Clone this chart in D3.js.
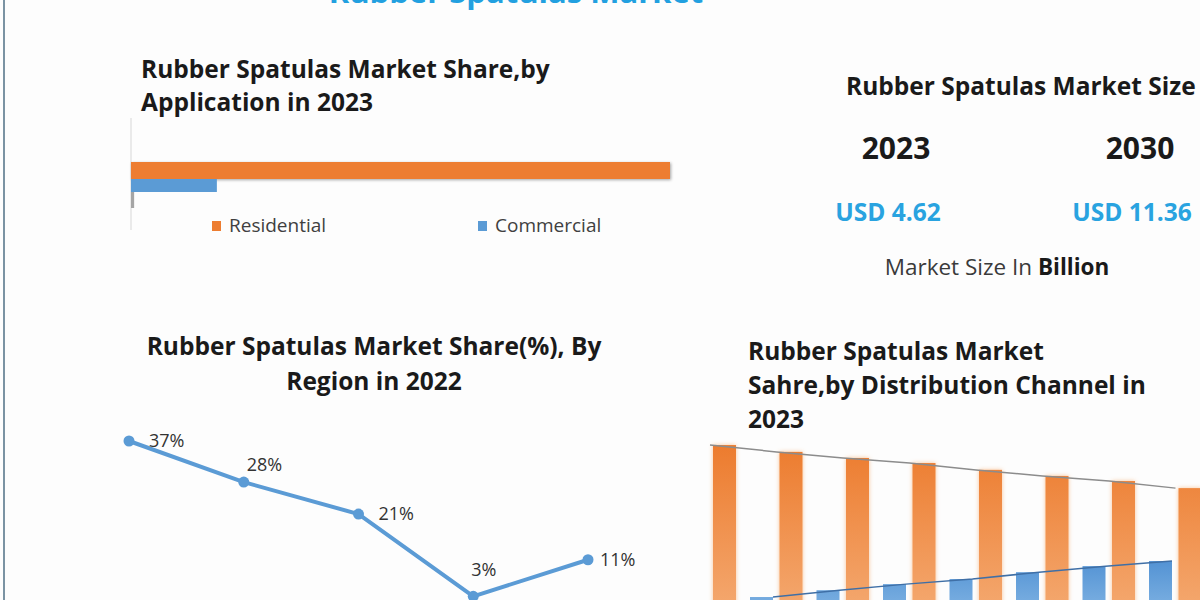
<!DOCTYPE html>
<html>
<head>
<meta charset="utf-8">
<script src="https://cdn.jsdelivr.net/npm/d3@7"></script>
<style>
	body { margin: 0; background: #fdfdfd; }
	svg { display: block; font-family: 'Open Sans', Lato, sans-serif; }
	.heading { font-weight: 700; fill: #1a1a1a; }
	.legend-text { fill: #404040; }
	.point-label { fill: #333; }
</style>
</head>
<body>
<svg id="chart"></svg>
<script>
// application share (top left)
const appCategories = ['Residential', 'Commercial', 'Other'];
const appShare = [86, 13.7, 0.5];

// market size
const sizeYears = ['2023', '2030'];
const sizeValues = [4.62, 11.36];

// share by region, 2022
const regions = ['North America', 'Europe', 'Asia Pacific', 'Middle East and Africa', 'South America'];
const regionShare = [37, 28, 21, 3, 11];

// share by distribution channel
const channelYears = ['2023', '2024', '2025', '2026', '2027', '2028', '2029', '2030'];
const offlineShare = [80, 77.3, 74.9, 72.9, 70.2, 67.8, 65.8, 63];
const onlineShare = [20, 22.7, 25.1, 27.1, 29.8, 32.2, 34.2, 37];

const width = 1200,
	height = 600;

const svg = d3.select('#chart')
	.attr('width', width)
	.attr('height', height);

svg.append('rect')
	.attr('width', width)
	.attr('height', height)
	.attr('fill', '#fdfdfd');

// left frame line
svg.append('line')
	.attr('x1', 4).attr('x2', 4)
	.attr('y1', 0).attr('y2', height)
	.attr('stroke', '#7b93a3')
	.attr('stroke-width', 2);

// main title, mostly cut off at the top
svg.append('text')
	.attr('x', 516)
	.attr('y', 3)
	.attr('text-anchor', 'middle')
	.style('font-size', '31px')
	.style('font-weight', 700)
	.style('fill', '#22a0e0')
	.text('Rubber Spatulas Market');

const colors = { orange: '#ed7d31', blue: '#5b9bd5', grey: '#a5a5a5' };
const headSize = '24.5px';

// ---------- Application share ----------
const app = svg.append('g');

app.append('text').attr('class', 'heading')
	.attr('x', 141).attr('y', 78)
	.style('font-size', headSize)
	.text('Rubber Spatulas Market Share,by');
app.append('text').attr('class', 'heading')
	.attr('x', 141).attr('y', 111)
	.style('font-size', headSize)
	.text('Application in 2023');

const xApp = d3.scaleLinear().domain([0, 86]).range([131, 670]);
const appColor = d3.scaleOrdinal().domain(appCategories).range([colors.orange, colors.blue, colors.grey]);
const appHeights = [17, 13, 16];

app.append('line')
	.attr('x1', xApp(0)).attr('x2', xApp(0))
	.attr('y1', 118).attr('y2', 230)
	.attr('stroke', '#e3e3e3')
	.attr('stroke-width', 1.5);

let yCursor = 162;
app.selectAll('.app-bar')
	.data(appCategories)
	.join('rect')
	.attr('class', 'app-bar')
	.attr('x', xApp(0))
	.attr('y', (d, i) => {
		const y = yCursor;
		yCursor += appHeights[i];
		return y;
	})
	.attr('width', (d, i) => xApp(appShare[i]) - xApp(0))
	.attr('height', (d, i) => appHeights[i])
	.attr('fill', d => appColor(d))
	.style('filter', (d, i) => i === 0 ? 'drop-shadow(1px 1px 1.5px rgba(0,0,0,0.35))' : null);

const appLegend = app.selectAll('.app-legend')
	.data(appCategories.slice(0, 2))
	.join('g')
	.attr('class', 'app-legend')
	.attr('transform', (d, i) => `translate(${212 + i * 266},221)`);
appLegend.append('rect')
	.attr('width', 9).attr('height', 10)
	.attr('fill', d => appColor(d));
appLegend.append('text')
	.attr('class', 'legend-text')
	.attr('x', 17).attr('y', 11)
	.style('font-size', '19px')
	.text(d => d);

// ---------- Market size ----------
const size = svg.append('g');
size.append('text').attr('class', 'heading')
	.attr('x', 846).attr('y', 95)
	.style('font-size', headSize)
	.text('Rubber Spatulas Market Size');

const xSize = d3.scalePoint().domain(sizeYears).range([896, 1140]);
size.selectAll('.size-year')
	.data(sizeYears)
	.join('text')
	.attr('class', 'size-year heading')
	.attr('x', d => xSize(d))
	.attr('y', 159)
	.attr('text-anchor', 'middle')
	.style('font-size', '30px')
	.text(d => d);
size.selectAll('.size-value')
	.data(sizeValues)
	.join('text')
	.attr('class', 'size-value')
	.attr('x', (d, i) => xSize(sizeYears[i]) - 8)
	.attr('y', 221)
	.attr('text-anchor', 'middle')
	.style('font-size', '24.5px')
	.style('font-weight', 700)
	.style('fill', '#29a3e0')
	.text(d => `USD ${d}`);

const sizeNote = size.append('text')
	.attr('x', 997).attr('y', 275)
	.attr('text-anchor', 'middle')
	.style('font-size', '22.5px')
	.style('fill', '#3a3a3a');
sizeNote.append('tspan').text('Market Size In ');
sizeNote.append('tspan').style('font-weight', 700).style('fill', '#1a1a1a').text('Billion');

// ---------- Region line chart ----------
const reg = svg.append('g');
reg.append('text').attr('class', 'heading')
	.attr('x', 374).attr('y', 355)
	.attr('text-anchor', 'middle')
	.style('font-size', headSize)
	.text('Rubber Spatulas Market Share(%), By');
reg.append('text').attr('class', 'heading')
	.attr('x', 374).attr('y', 390)
	.attr('text-anchor', 'middle')
	.style('font-size', headSize)
	.text('Region in 2022');

const xReg = d3.scalePoint().domain(regions).range([129, 588]);
const yReg = d3.scaleLinear().domain([0, 37]).range([610, 441]);

reg.append('path')
	.datum(regionShare)
	.attr('fill', 'none')
	.attr('stroke', colors.blue)
	.attr('stroke-width', 4)
	.attr('stroke-linejoin', 'round')
	.attr('d', d3.line().x((d, i) => xReg(regions[i])).y(d => yReg(d)));

reg.selectAll('.reg-dot')
	.data(regionShare)
	.join('circle')
	.attr('class', 'reg-dot')
	.attr('cx', (d, i) => xReg(regions[i]))
	.attr('cy', d => yReg(d))
	.attr('r', 5.5)
	.attr('fill', colors.blue);

// label offsets relative to each point
const labelOffsets = [[20, 6], [3, -11], [20, 6], [-2, -20], [12, 6]];
reg.selectAll('.point-label')
	.data(regionShare)
	.join('text')
	.attr('class', 'point-label')
	.attr('x', (d, i) => xReg(regions[i]) + labelOffsets[i][0])
	.attr('y', (d, i) => yReg(d) + labelOffsets[i][1])
	.style('font-size', '18px')
	.text(d => `${d}%`);

// ---------- Distribution channel ----------
const dist = svg.append('g');
['Rubber Spatulas Market', 'Sahre,by Distribution Channel in', '2023'].forEach((t, i) => {
	dist.append('text').attr('class', 'heading')
		.attr('x', 748).attr('y', 360 + i * 34)
		.style('font-size', headSize)
		.text(t);
});

const defs = svg.append('defs');
const gradO = defs.append('linearGradient')
	.attr('id', 'grad-orange')
	.attr('gradientUnits', 'userSpaceOnUse')
	.attr('x1', 0).attr('x2', 0).attr('y1', 440).attr('y2', 610);
gradO.append('stop').attr('offset', '0%').attr('stop-color', '#ec7a2c');
gradO.append('stop').attr('offset', '100%').attr('stop-color', '#f4a86f');
const gradB = defs.append('linearGradient')
	.attr('id', 'grad-blue')
	.attr('gradientUnits', 'userSpaceOnUse')
	.attr('x1', 0).attr('x2', 0).attr('y1', 555).attr('y2', 610);
gradB.append('stop').attr('offset', '0%').attr('stop-color', '#4e8fd2');
gradB.append('stop').attr('offset', '100%').attr('stop-color', '#7db1e2');

const xDist = d3.scaleBand().domain(channelYears).range([703, 703 + 66.5 * channelYears.length]);
const yDist = d3.scaleLinear().domain([0, 100]).range([647.7, 394.4]);
const barW = 23;
const offOrange = 10,
	offBlue = 47;

dist.selectAll('.bar-offline')
	.data(offlineShare)
	.join('rect')
	.attr('class', 'bar-offline')
	.attr('x', (d, i) => xDist(channelYears[i]) + offOrange)
	.attr('y', d => yDist(d))
	.attr('width', barW)
	.attr('height', d => yDist(0) - yDist(d))
	.attr('fill', 'url(#grad-orange)')
	.style('filter', 'drop-shadow(0 0 2px rgba(248,190,140,0.9))');

dist.selectAll('.bar-online')
	.data(onlineShare)
	.join('rect')
	.attr('class', 'bar-online')
	.attr('x', (d, i) => xDist(channelYears[i]) + offBlue)
	.attr('y', d => yDist(d))
	.attr('width', barW)
	.attr('height', d => yDist(0) - yDist(d))
	.attr('fill', 'url(#grad-blue)');

// trend lines over the bar tops
dist.append('path')
	.datum(offlineShare)
	.attr('fill', 'none')
	.attr('stroke', '#8c8c8c')
	.attr('stroke-width', 1.5)
	.attr('d', d3.line()
		.x((d, i) => xDist(channelYears[i]) + offOrange - 3)
		.y(d => yDist(d)));

// the online trend stops at the 2029 bar in the source
dist.append('path')
	.datum(onlineShare.slice(0, 7))
	.attr('fill', 'none')
	.attr('stroke', '#3f6fa6')
	.attr('stroke-width', 1.5)
	.attr('d', d3.line()
		.x((d, i) => xDist(channelYears[i]) + offBlue + barW)
		.y(d => yDist(d)));
</script>
</body>
</html>
